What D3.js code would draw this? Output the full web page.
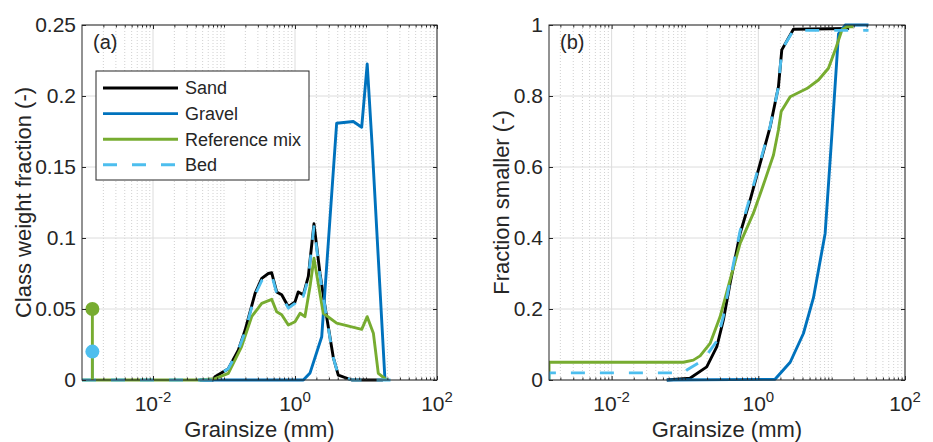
<!DOCTYPE html>
<html>
<head>
<meta charset="utf-8">
<script src="https://cdn.jsdelivr.net/npm/d3@7"></script>
<style>
body { margin: 0; background: #fff; }
text { font-family: "Liberation Sans", Arial, Helvetica, sans-serif; fill: #262626; }
</style>
</head>
<body>
<div id="graphic"></div>
<script>
// (a) class weight fractions, grain size in mm
var sandD = [0.0455, 0.070, 0.0746, 0.115, 0.159, 0.198, 0.274, 0.340, 0.421, 0.470, 0.552, 0.650, 0.805, 1.0, 1.11, 1.31, 1.54, 1.85, 2.25, 2.79, 3.46, 4.07, 6.3, 17.3];
var sandP = [0, 0, 0.0023, 0.008, 0.021, 0.035, 0.061, 0.0716, 0.075, 0.0755, 0.062, 0.060, 0.0516, 0.055, 0.062, 0.060, 0.073, 0.110, 0.075, 0.0446, 0.016, 0.0035, 0, 0];
var gravD = [0.0455, 1.31, 1.63, 2.38, 3.86, 6.62, 8.7, 10.4, 12.2, 18.5];
var gravP = [0, 0, 0.005, 0.0305, 0.1808, 0.182, 0.178, 0.2225, 0.165, 0];
var refD = [0.001, 0.0455, 0.0746, 0.115, 0.177, 0.245, 0.340, 0.470, 0.552, 0.650, 0.805, 1.0, 1.18, 1.38, 1.63, 1.85, 2.5, 3.86, 8.7, 10.4, 12.7, 14.9, 19.6];
var refP = [0, 0, 0.001, 0.0047, 0.0235, 0.0446, 0.054, 0.0568, 0.048, 0.046, 0.0387, 0.041, 0.047, 0.0446, 0.066, 0.0857, 0.047, 0.040, 0.0357, 0.0446, 0.033, 0.0047, 0];
var bedD = [0.001, 0.0455, 0.070, 0.0746, 0.115, 0.159, 0.198, 0.274, 0.340, 0.421, 0.470, 0.552, 0.650, 0.805, 1.0, 1.11, 1.31, 1.54, 1.85, 2.25, 2.79, 3.46, 4.07, 6.3, 27.4];
var bedP = [0, 0, 0, 0.002, 0.008, 0.021, 0.034, 0.060, 0.070, 0.0735, 0.074, 0.061, 0.059, 0.0506, 0.054, 0.061, 0.059, 0.0715, 0.108, 0.0735, 0.0437, 0.0157, 0.0034, 0, 0];
// fines class (stems)
var fineD = 0.0014;
var refFine = 0.05;
var bedFine = 0.02;

// (b) fraction smaller
var sandCD = [0.0565, 0.117, 0.198, 0.272, 0.334, 0.412, 0.565, 0.773, 1.06, 1.45, 1.88, 2.09, 3.01, 17.3];
var sandC = [0, 0.005, 0.037, 0.094, 0.169, 0.272, 0.413, 0.507, 0.61, 0.713, 0.826, 0.93, 0.988, 0.99];
var gravCD = [0.0565, 1.69, 2.72, 4.12, 5.65, 8.15, 10.1, 12.4, 15.3, 31.8];
var gravC = [0, 0.002, 0.05, 0.131, 0.232, 0.413, 0.695, 0.975, 1.0, 1.0];
var refCD = [0.0014, 0.0014, 0.095, 0.13, 0.161, 0.22, 0.301, 0.412, 0.565, 0.857, 1.17, 1.61, 1.88, 2.05, 2.72, 4.59, 6.61, 9.04, 11.2, 13.8, 16.1, 19.8];
var refC = [0, 0.05, 0.05, 0.056, 0.068, 0.103, 0.178, 0.282, 0.385, 0.47, 0.549, 0.634, 0.704, 0.756, 0.798, 0.821, 0.845, 0.878, 0.93, 0.986, 0.995, 0.995];
var bedCD = [0.0014, 0.0014, 0.095, 0.106, 0.178, 0.272, 0.334, 0.412, 0.565, 0.773, 1.06, 1.45, 1.88, 2.09, 3.01, 31.8];
var bedC = [0, 0.02, 0.02, 0.028, 0.056, 0.11, 0.18, 0.28, 0.42, 0.515, 0.615, 0.715, 0.825, 0.93, 0.985, 0.985];

var seriesNames = ["Sand", "Gravel", "Reference mix", "Bed"];
var colors = ["#000000", "#0072BD", "#77AC30", "#4DBEEE"];
var xMajor = [1e-2, 1, 1e2];
var yTicksA = [0, 0.05, 0.1, 0.15, 0.2, 0.25];
var yTicksB = [0, 0.2, 0.4, 0.6, 0.8, 1];

var svg = d3.select("#graphic").append("svg").attr("width", 933).attr("height", 442);
var top_ = 25, bottom = 380, lw = 2.9;

function panel(o) {
  var g = svg.append("g");
  var x = d3.scaleLog().domain(o.xDomain).range([o.left, o.right]);
  var y = d3.scaleLinear().domain(o.yDomain).range([bottom, top_]);

  var minors = [];
  for (var e = -3; e < 2; e++) {
    for (var k = 1; k < 10; k++) {
      var v = k * Math.pow(10, e);
      if (k == 1 && e % 2 == 0) continue;
      if (v > o.xDomain[0] && v < o.xDomain[1]) minors.push(v);
    }
  }

  // grid
  g.selectAll(".mg").data(minors).enter().append("line")
    .attr("x1", function(d) { return x(d); }).attr("x2", function(d) { return x(d); })
    .attr("y1", top_).attr("y2", bottom)
    .attr("stroke", "#c4c4c4").attr("stroke-width", 0.8).attr("stroke-dasharray", "1,2");
  g.selectAll(".gx").data(xMajor).enter().append("line")
    .attr("x1", function(d) { return x(d); }).attr("x2", function(d) { return x(d); })
    .attr("y1", top_).attr("y2", bottom)
    .attr("stroke", "#dcdcdc").attr("stroke-width", 1);
  g.selectAll(".gy").data(o.yTicks).enter().append("line")
    .attr("x1", o.left).attr("x2", o.right)
    .attr("y1", function(d) { return y(d); }).attr("y2", function(d) { return y(d); })
    .attr("stroke", "#dcdcdc").attr("stroke-width", 1);

  // lines
  svg.append("clipPath").attr("id", o.id + "clip").append("rect")
    .attr("x", o.left).attr("y", top_ - 2).attr("width", o.right - o.left).attr("height", bottom - top_ + 4);
  var lg = g.append("g").attr("clip-path", "url(#" + o.id + "clip)");
  var line = d3.line().x(function(d) { return x(d[0]); }).y(function(d) { return y(d[1]); });
  o.series.forEach(function(s, i) {
    lg.append("path").datum(d3.zip(s[0], s[1]))
      .attr("d", line).attr("fill", "none")
      .attr("stroke", colors[i]).attr("stroke-width", lw)
      .attr("stroke-linejoin", "round")
      .attr("stroke-dasharray", i == 3 ? "14,15" : null);
  });

  if (o.stems) {
    var sx = x(fineD);
    g.append("line").attr("x1", sx).attr("x2", sx).attr("y1", y(0)).attr("y2", y(bedFine))
      .attr("stroke", colors[3]).attr("stroke-width", lw);
    g.append("line").attr("x1", sx).attr("x2", sx).attr("y1", y(0)).attr("y2", y(refFine))
      .attr("stroke", colors[2]).attr("stroke-width", lw);
    g.append("circle").attr("cx", sx).attr("cy", y(refFine)).attr("r", 7).attr("fill", colors[2]);
    g.append("circle").attr("cx", sx).attr("cy", y(bedFine)).attr("r", 7).attr("fill", colors[3]);
  }

  // axes
  function styleAxis(a) { a.attr("color", "#262626").attr("font-size", 21).attr("font-family", null); a.select(".domain").remove(); }
  g.append("g").attr("transform", "translate(0," + bottom + ")")
    .call(d3.axisBottom(x).tickValues(xMajor).tickSize(-4).tickSizeOuter(0).tickFormat(""))
    .call(styleAxis);
  g.append("g").attr("transform", "translate(0," + bottom + ")")
    .call(d3.axisBottom(x).tickValues(minors).tickSize(-2.5).tickSizeOuter(0).tickFormat(""))
    .call(styleAxis);
  g.append("g").attr("transform", "translate(0," + top_ + ")")
    .call(d3.axisTop(x).tickValues(xMajor).tickSize(-4).tickSizeOuter(0).tickFormat(""))
    .call(styleAxis);
  g.append("g").attr("transform", "translate(0," + top_ + ")")
    .call(d3.axisTop(x).tickValues(minors).tickSize(-2.5).tickSizeOuter(0).tickFormat(""))
    .call(styleAxis);
  g.append("g").attr("transform", "translate(" + o.left + ",0)")
    .call(d3.axisLeft(y).tickValues(o.yTicks).tickSize(-4).tickSizeOuter(0).tickPadding(6).tickFormat(String))
    .call(styleAxis);
  g.append("g").attr("transform", "translate(" + o.right + ",0)")
    .call(d3.axisRight(y).tickValues(o.yTicks).tickSize(-4).tickSizeOuter(0).tickFormat(""))
    .call(styleAxis);
  g.append("rect").attr("x", o.left).attr("y", top_).attr("width", o.right - o.left).attr("height", bottom - top_)
    .attr("fill", "none").attr("stroke", "#262626").attr("stroke-width", 1);

  // x tick labels 10^n
  var xl = g.selectAll(".xl").data(xMajor).enter().append("text")
    .attr("x", function(d) { return x(d); }).attr("y", 411)
    .attr("text-anchor", "middle").attr("font-size", 21);
  xl.append("tspan").text("10");
  xl.append("tspan").attr("dy", -9).attr("font-size", 15).text(function(d) { return String(Math.round(Math.log10(d))); });

  g.append("text").attr("x", (o.left + o.right) / 2).attr("y", 437)
    .attr("text-anchor", "middle").attr("font-size", 22).text("Grainsize (mm)");
  g.append("text").attr("transform", "translate(" + o.yLabelX + "," + ((top_ + bottom) / 2) + ") rotate(-90)")
    .attr("text-anchor", "middle").attr("font-size", 22).text(o.yLabel);
  g.append("text").attr("x", o.left + 11).attr("y", 49).attr("font-size", 20).text(o.tag);
  return g;
}

var ga = panel({
  id: "a", left: 82, right: 437, xDomain: [1e-3, 1e2], yDomain: [0, 0.25], yTicks: yTicksA,
  yLabel: "Class weight fraction (-)", yLabelX: 30.5, tag: "(a)", stems: true,
  series: [[sandD, sandP], [gravD, gravP], [refD, refP], [bedD, bedP]]
});
panel({
  id: "b", left: 549, right: 905, xDomain: [0.0014, 1e2], yDomain: [0, 1], yTicks: yTicksB,
  yLabel: "Fraction smaller (-)", yLabelX: 509, tag: "(b)", stems: false,
  series: [[sandCD, sandC], [gravCD, gravC], [refCD, refC], [bedCD, bedC]]
});

// legend
var leg = ga.append("g");
leg.append("rect").attr("x", 96).attr("y", 71).attr("width", 213).attr("height", 109)
  .attr("fill", "#fff").attr("stroke", "#262626").attr("stroke-width", 1);
seriesNames.forEach(function(n, i) {
  var ly = 88 + i * 25.6;
  leg.append("line").attr("x1", 103).attr("x2", 178).attr("y1", ly).attr("y2", ly)
    .attr("stroke", colors[i]).attr("stroke-width", lw)
    .attr("stroke-dasharray", i == 3 ? "14,15" : null);
  leg.append("text").attr("x", 185).attr("y", ly).attr("dy", "0.35em").attr("font-size", 18).text(n);
});
</script>
</body>
</html>
